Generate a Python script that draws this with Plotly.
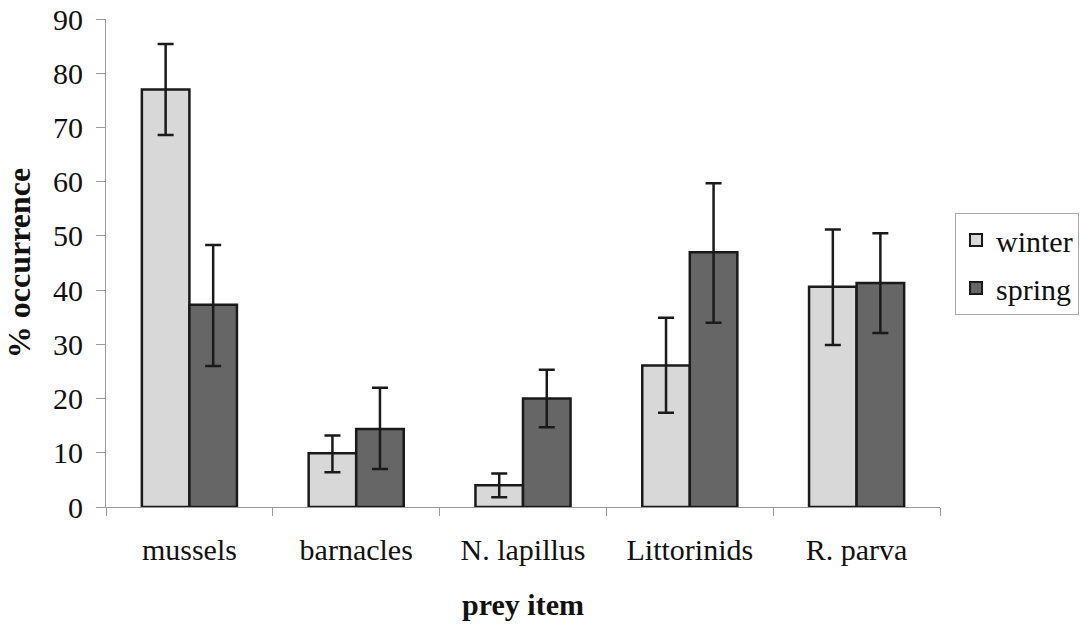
import plotly.graph_objects as go

categories = ["mussels", "barnacles", "N. lapillus", "Littorinids", "R. parva"]
winter = [77.0, 9.9, 4.0, 26.1, 40.6]
winter_err_plus = [8.4, 3.3, 2.2, 8.8, 10.6]
winter_err_minus = [8.4, 3.5, 2.2, 8.7, 10.7]
spring = [37.3, 14.4, 20.0, 47.0, 41.3]
spring_err_plus = [11.0, 7.6, 5.3, 12.7, 9.2]
spring_err_minus = [11.3, 7.4, 5.3, 13.0, 9.2]
y_ticks = [0, 10, 20, 30, 40, 50, 60, 70, 80, 90]

font_family = "Liberation Serif"

fig = go.Figure()
fig.add_trace(go.Bar(
    name="winter", x=categories, y=winter, legendgroup="w",
    marker=dict(color="#d8d8d8", line=dict(color="#1a1a1a", width=2.5)),
    error_y=dict(type="data", symmetric=False, array=winter_err_plus,
                 arrayminus=winter_err_minus, color="#1a1a1a", thickness=2.5, width=8),
))
fig.add_trace(go.Bar(
    name="spring", x=categories, y=spring, legendgroup="s",
    marker=dict(color="#666666", line=dict(color="#1a1a1a", width=2.5)),
    error_y=dict(type="data", symmetric=False, array=spring_err_plus,
                 arrayminus=spring_err_minus, color="#1a1a1a", thickness=2.5, width=8),
))

fig.update_layout(
    width=1089, height=627,
    margin=dict(l=106, r=149, t=19, b=120, autoexpand=False),
    paper_bgcolor="white", plot_bgcolor="white",
    barmode="group", bargap=0.43, bargroupgap=0,
    font=dict(family=font_family, size=30, color="#111"),
    showlegend=True,
    legend=dict(x=1.018, y=0.498, xanchor="left", yanchor="middle",
                bordercolor="#aaaaaa", borderwidth=1,
                font=dict(size=30, family=font_family),
                itemsizing="constant", tracegroupgap=6, traceorder="grouped"),
    xaxis=dict(
        type="category", showline=True, linecolor="#999999", linewidth=1,
        ticks="outside", tickson="boundaries", ticklen=8, tickcolor="#999999",
        showgrid=False, tickfont=dict(size=30, family=font_family),
        ticklabelstandoff=16, automargin=False,
        title=dict(text="<b>prey item</b>", font=dict(size=30, family=font_family), standoff=28),
        range=[-0.5, 4.5],
    ),
    yaxis=dict(
        range=[0, 90], tickvals=y_ticks, showline=True, linecolor="#999999", linewidth=1,
        ticks="outside", ticklen=9, tickcolor="#999999", showgrid=False, zeroline=False,
        tickfont=dict(size=30, family=font_family), ticklabeloverflow="allow",
        ticklabelstandoff=7, automargin=False,
        title=dict(text="<b>% occurrence</b>", font=dict(size=32, family=font_family), standoff=12),
    ),
)

fig.write_html("out.html", config={"displayModeBar": False},
               post_script="document.body.style.margin='0px';")
